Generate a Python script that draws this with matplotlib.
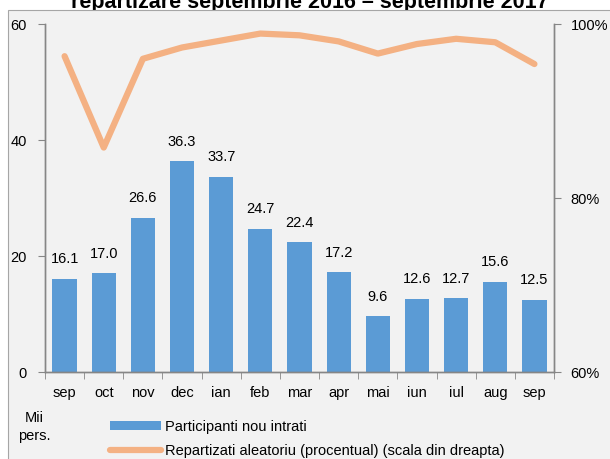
import matplotlib
matplotlib.use('Agg')
import matplotlib.pyplot as plt
import numpy as np
from matplotlib.lines import Line2D
from matplotlib.patches import Patch, Rectangle
from matplotlib.ticker import FuncFormatter

plt.rcParams['font.family'] = ['Liberation Sans', 'DejaVu Sans']

# -----------------------------------------------------------------------------
# Data (sep 2016 - sep 2017)
# -----------------------------------------------------------------------------
months = ['sep', 'oct', 'nov', 'dec', 'ian', 'feb', 'mar', 'apr',
          'mai', 'iun', 'iul', 'aug', 'sep']
participants = [16.1, 17.0, 26.6, 36.3, 33.7, 24.7, 22.4, 17.2,
                9.6, 12.6, 12.7, 15.6, 12.5]
random_pct = [96.3, 85.8, 96.0, 97.3, 98.1, 98.9, 98.7, 98.0,
              96.6, 97.7, 98.3, 97.9, 95.4]

BAR_COLOR = '#5B9BD5'
LINE_COLOR = '#F4B183'
AXIS_COLOR = '#868686'
BG = '#F2F2F2'
FS = 10.5

W, H = 610, 459
fig = plt.figure(figsize=(W / 100, H / 100), dpi=100)
fig.patch.set_facecolor('white')

# chart area background (frame starts a bit below the top edge)
fig.patches.append(Rectangle((8 / W, -0.05), 1.1, (H - 10) / H + 0.05,
                             transform=fig.transFigure, facecolor=BG,
                             edgecolor='#A6A6A6', linewidth=0.8, zorder=1))
# title, mostly cut off by the chart frame
fig.text(310 / W, (H - 8) / H, 'repartizare septembrie 2016 \u2013 septembrie 2017',
         ha='center', va='baseline', fontsize=15.5, fontweight='bold', zorder=0.5)

ax = fig.add_axes([45 / W, (H - 372) / H, (554 - 45) / W, (372 - 24) / H])
ax2 = ax.twinx()
ax.set_zorder(2)
ax2.set_zorder(3)
ax.patch.set_visible(False)
ax2.patch.set_visible(False)

x = np.arange(len(months))
ax.bar(x, participants, width=0.62, color=BAR_COLOR, zorder=2)
for xi, v in zip(x, participants):
    ax.annotate(f'{v:.1f}', (xi, v), xytext=(0, 9), textcoords='offset points',
                ha='center', va='bottom', fontsize=FS)

ax2.plot(x, random_pct, color=LINE_COLOR, linewidth=4.5,
         solid_capstyle='round', solid_joinstyle='round')

ax.set_xlim(-0.5, len(months) - 0.5)
ax.set_ylim(0, 60)
ax.set_yticks([0, 20, 40, 60])
ax2.set_ylim(60, 100)
ax2.set_yticks([60, 80, 100])
ax2.yaxis.set_major_formatter(FuncFormatter(lambda v, p: f'{v:.0f}%'))

ax.set_xticks(x)
ax.set_xticklabels(months)
ax.set_xticks(np.arange(-0.5, len(months), 1.0), minor=True)
ax.tick_params(axis='x', which='major', length=0, pad=10, labelsize=FS)
ax.tick_params(axis='x', which='minor', length=5, direction='out', color=AXIS_COLOR)
ax.tick_params(axis='y', length=5, direction='out', color=AXIS_COLOR, pad=8, labelsize=FS)
ax2.tick_params(axis='y', length=5, direction='out', color=AXIS_COLOR, pad=7, labelsize=FS)

for a in (ax, ax2):
    a.spines['top'].set_visible(False)
    for s in ('left', 'right', 'bottom'):
        a.spines[s].set_color(AXIS_COLOR)
        a.spines[s].set_linewidth(1.0)

fig.text(34 / W, (H - 427) / H, 'Mii\npers.', ha='center', va='center',
         fontsize=FS, linespacing=1.45, zorder=5)

handles = [Patch(facecolor=BAR_COLOR, edgecolor='none'),
           Line2D([0], [0], color=LINE_COLOR, linewidth=4.5, solid_capstyle='round')]
labels = ['Participanti nou intrati',
          'Repartizati aleatoriu (procentual) (scala din dreapta)']
leg = fig.legend(handles, labels, loc='upper left',
                 bbox_to_anchor=(104 / W, (H - 414) / H), frameon=False,
                 fontsize=FS, handlelength=3.5, handleheight=0.6,
                 handletextpad=0.28, labelspacing=0.72, borderaxespad=0)
leg.set_zorder(5)

fig.savefig('out.png', dpi=100)
